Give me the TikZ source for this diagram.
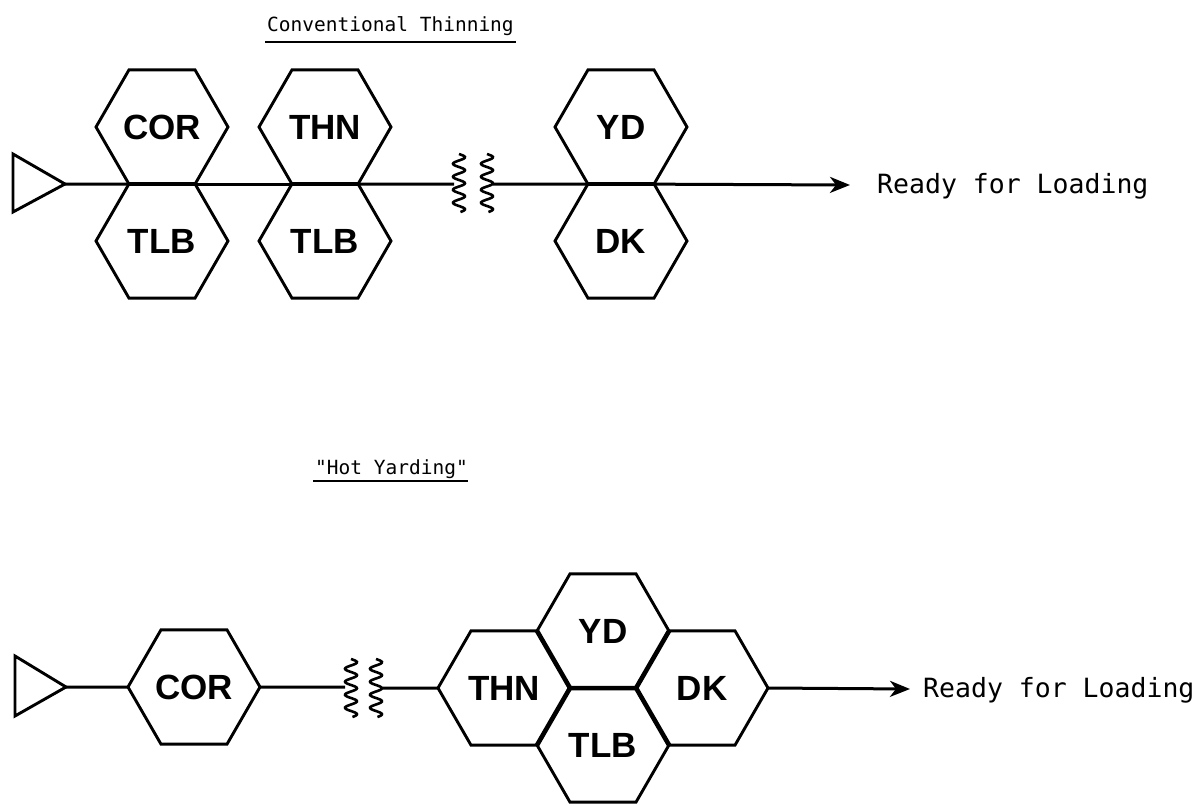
\documentclass[tikz,border=0pt]{standalone}
\usepackage{fontspec}
\setmainfont{Liberation Sans}
\newfontfamily\monof{DejaVu Sans Mono}
\usetikzlibrary{shapes.geometric,arrows.meta}
\begin{document}
\begin{tikzpicture}[x=1pt,y=-1pt,
  hexa/.style={draw, regular polygon, regular polygon sides=6, minimum size=132pt,
    inner sep=0pt, outer sep=0pt, line width=2.9pt,
    font=\fontsize{35}{35}\selectfont\bfseries},
  flow/.style={line width=3pt},
  shared/.style={line width=4.6pt},
  arr/.style={line width=3pt, -{Stealth[length=20pt,width=16pt,inset=6pt]}},
  title/.style={inner sep=0pt, font=\monof\fontsize{19.5}{19.5}\selectfont},
  ready/.style={inner sep=0pt, anchor=base west, font=\monof\fontsize{26.5}{26.5}\selectfont},
  src/.style={line width=2.9pt, line join=miter},
  wave/.style={line width=2.6pt}
]
\useasboundingbox (0,0) rectangle (1200,806);

% ---------- Conventional Thinning ----------
\node[title, anchor=base west] (t1) at (267,31) {Conventional Thinning};
\draw[line width=1.8pt] ([shift={(-2pt,-11pt)}]t1.base west) -- ([shift={(2pt,-11pt)}]t1.base east);

\draw[src] (13,154) -- (65,184) -- (13,212) -- cycle;
\coordinate (tipA) at (65,184);

\node[hexa] (cor1) at (162,127) {COR};
\node[hexa] (tlb1) at (162,241) {TLB};
\node[hexa] (thn1) at (325,127) {THN};
\node[hexa] (tlb2) at (325,241) {TLB};
\node[hexa] (yd1)  at (621,127) {YD};
\node[hexa] (dk1)  at (621,241) {DK};

\coordinate (sqA) at (454,184);
\coordinate (sqB) at (493,184);
\coordinate (endA) at (850,185);

\draw[flow] (tipA) -- (cor1.240);
\draw[shared] (cor1.240) -- (cor1.300);
\draw[flow] (cor1.300) -- (thn1.240);
\draw[shared] (thn1.240) -- (thn1.300);
\draw[flow] (thn1.300) -- (sqA);
\draw[flow] (sqB) -- (yd1.240);
\draw[shared] (yd1.240) -- (yd1.300);
\draw[arr] (yd1.300) -- (endA);
\node[ready] (r1) at (877,193) {Ready for Loading};

\foreach \xx in {459,487}{
  \draw[wave] plot[smooth, domain=0:58, samples=80] ({\xx+6*sin(\x*27.69)}, {154+\x});
}

% ---------- Hot Yarding ----------
\node[title, anchor=base west] (t2) at (315,474) {"Hot Yarding"};
\draw[line width=1.8pt] ([shift={(-2pt,-7pt)}]t2.base west) -- ([shift={(0pt,-7pt)}]t2.base east);

\draw[src] (15,656) -- (66,687) -- (15,716) -- cycle;
\coordinate (tipB) at (66,687);

\node[hexa] (cor2) at (194,687) {COR};
\node[hexa] (thn2) at (504,688) {THN};
\node[hexa] (yd2)  at (603,631) {YD};
\node[hexa] (dk2)  at (702,688) {DK};
\node[hexa] (tlb3) at (603,745) {TLB};

\coordinate (sqC) at (345,687);
\coordinate (sqD) at (383,688);
\coordinate (endB) at (910,689);

\draw[flow] (tipB) -- (cor2.180);
\draw[flow] (cor2.0) -- (sqC);
\draw[flow] (sqD) -- (thn2.180);
\draw[arr] (dk2.0) -- (endB);
\node[ready] (r2) at (923,697) {Ready for Loading};

% shared inner edges of the cluster
\draw[shared] (thn2.60) -- (thn2.0) -- (thn2.300);
\draw[shared] (yd2.240) -- (yd2.300) -- (yd2.0);
\draw[shared] (tlb3.60) -- (tlb3.0);

\foreach \xx in {351,376}{
  \draw[wave] plot[smooth, domain=0:58, samples=80] ({\xx+6*sin(\x*27.69)}, {659+\x});
}
\end{tikzpicture}
\end{document}
